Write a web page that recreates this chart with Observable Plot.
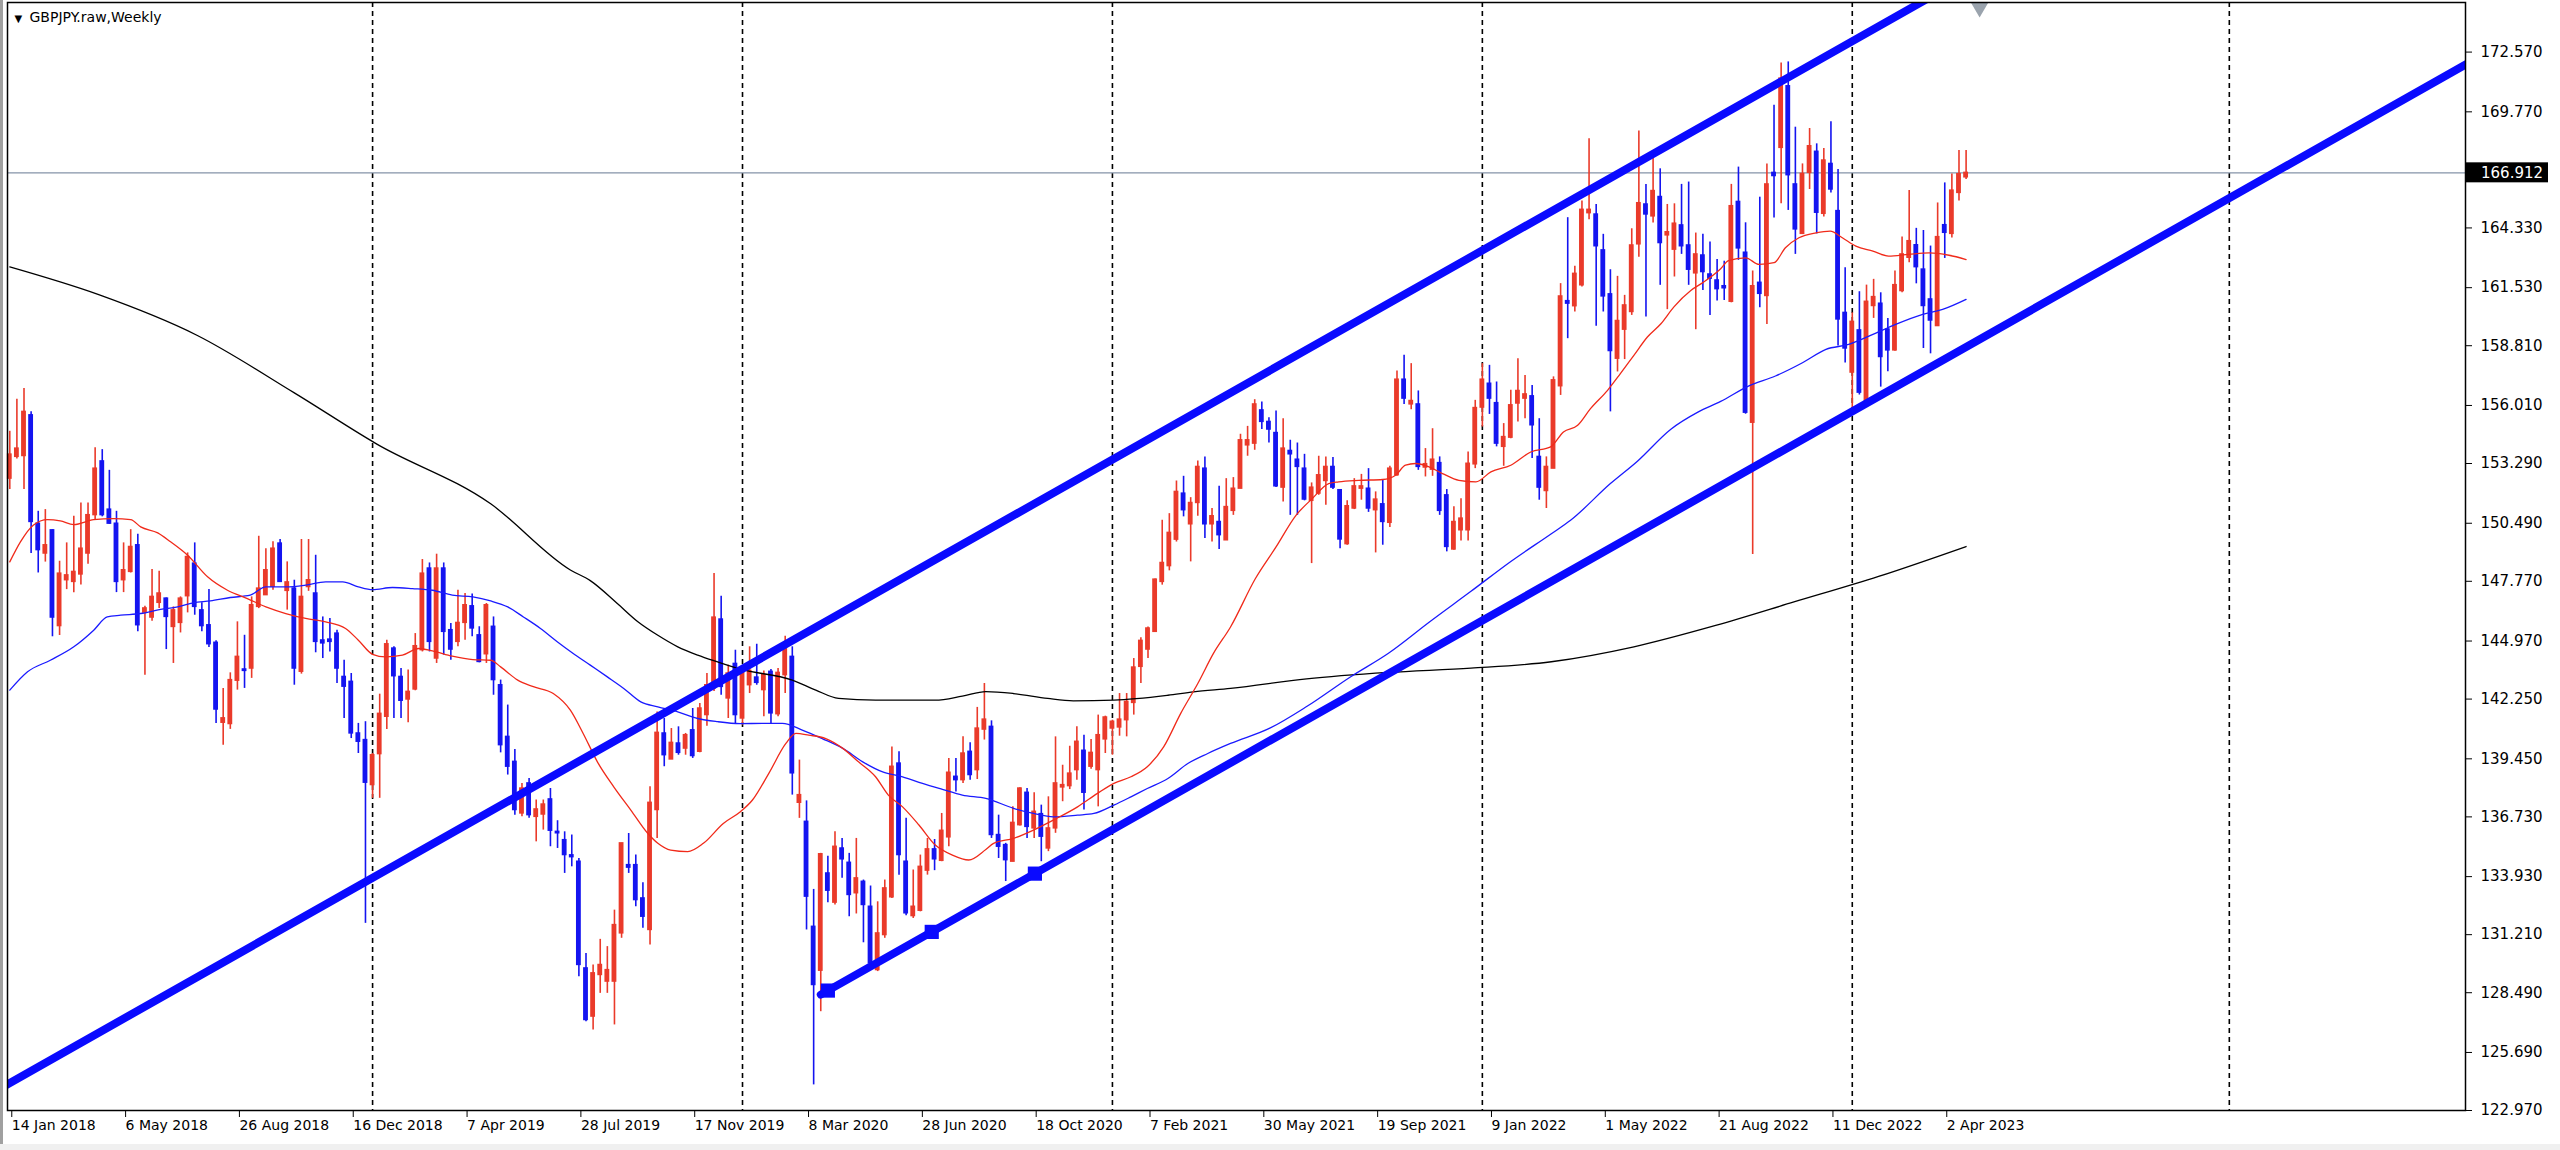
<!DOCTYPE html>
<html>
<head>
<meta charset="utf-8">
<script src="https://cdn.jsdelivr.net/npm/d3@7"></script>
<script src="https://cdn.jsdelivr.net/npm/@observablehq/plot@0.6"></script>
<style>
  html, body { margin: 0; padding: 0; background: #ffffff; overflow: hidden; }
  #wrap { position: relative; width: 2560px; height: 1150px; }
  #edgeL { position: absolute; left: 0; top: 0; width: 3px; height: 1150px; background: #a0a0a0; }
  #edgeB { position: absolute; left: 0; top: 1144px; width: 2560px; height: 6px; background: #f0f0f0; }
</style>
</head>
<body>
<div id="wrap"><div id="edgeL"></div><div id="edgeB"></div></div>
<script>
// ---------- DATA (weekly GBPJPY candles, week index 0 = 14 Jan 2018) ----------
const opens = [
152.58,153.60,153.64,155.55,150.47,149.07,150.16,145.67,147.82,147.74,
148.09,149.07,150.87,153.39,151.13,150.47,147.82,148.21,149.46,146.30,
146.07,146.76,146.96,145.63,145.82,147.07,148.60,146.41,145.71,144.89,
141.14,141.08,143.11,143.64,143.68,146.57,147.12,147.51,149.54,147.32,
147.43,143.53,147.50,147.20,145.00,145.04,145.32,143.29,143.06,140.64,
140.33,138.22,139.67,141.42,144.62,143.29,142.23,142.70,144.54,148.37,
144.15,148.37,145.48,144.93,145.82,146.60,145.24,144.35,145.64,142.90,
140.48,139.31,136.89,138.30,136.73,136.84,137.55,136.03,135.64,134.93,
134.63,129.63,127.37,129.32,129.01,129.01,131.27,134.47,134.47,132.91,
131.43,137.05,140.64,139.42,140.17,139.93,140.79,139.78,141.50,142.75,
145.98,142.28,143.90,141.34,142.90,143.26,142.67,143.53,141.54,143.37,
144.23,137.39,136.50,131.58,129.52,134.08,132.71,135.25,134.58,133.15,
133.69,132.52,129.55,131.19,132.96,139.23,134.63,132.08,132.33,134.21,
135.21,134.67,135.77,138.61,138.45,139.78,138.92,140.82,140.95,135.88,
135.41,134.63,136.34,137.86,136.19,136.86,135.25,136.19,138.11,138.17,
138.92,139.83,139.08,138.92,140.36,140.87,140.92,141.26,142.07,143.76,
144.57,145.40,147.74,148.48,149.72,151.88,150.44,151.44,153.05,150.44,
150.55,149.69,151.07,152.11,154.14,154.22,155.78,155.24,154.72,152.16,
153.88,153.47,153.05,151.54,151.88,152.47,153.13,152.04,149.51,151.18,
152.11,152.11,151.10,151.38,150.51,152.74,157.22,156.06,156.06,153.10,
153.00,153.31,151.80,149.26,150.16,150.16,153.25,155.91,157.03,156.12,
154.07,154.50,156.10,156.33,156.44,153.60,152.00,153.05,156.91,160.90,
160.66,161.64,165.02,164.96,163.28,161.22,158.20,159.56,160.39,163.56,
165.43,164.87,165.78,163.98,163.31,164.45,163.51,162.20,163.04,162.15,
161.87,161.60,160.87,165.55,163.17,155.20,161.76,161.14,166.91,168.08,
170.97,166.37,164.05,166.91,167.90,164.99,167.33,165.12,160.35,157.55,
159.53,156.22,160.67,160.78,159.57,158.59,161.37,162.93,163.52,162.38,
160.98,159.73,164.46,164.05,165.97,166.70];
const highs = [
154.80,156.30,156.80,155.71,151.05,151.13,150.19,148.71,149.57,150.82,
151.44,151.44,154.03,153.94,152.97,151.05,149.57,150.19,149.97,146.60,
148.32,148.24,146.99,146.57,147.04,149.10,149.57,146.76,147.38,144.98,
142.75,143.48,145.87,145.24,147.04,149.88,149.30,149.62,149.73,148.68,
147.82,149.73,149.73,148.99,146.10,146.03,145.48,144.07,143.45,141.11,
141.19,139.70,142.48,145.01,144.70,143.68,143.61,145.32,148.79,148.63,
149.04,148.63,145.79,147.35,147.20,147.17,145.64,146.73,146.10,143.14,
141.97,139.89,138.30,138.53,137.52,137.52,138.06,136.55,136.03,135.88,
134.78,130.33,129.79,130.99,130.65,132.36,135.49,135.95,134.94,133.64,
138.14,141.65,141.34,140.87,140.95,140.64,141.81,142.04,143.45,148.13,
147.07,143.84,144.54,143.76,144.70,144.82,143.57,143.64,143.68,145.20,
144.70,139.39,137.48,133.33,135.02,134.89,136.03,135.72,135.02,135.72,
133.77,133.49,132.75,133.77,140.01,139.78,136.66,134.24,134.94,135.72,
135.67,136.89,139.47,139.47,140.48,140.20,141.86,142.98,141.23,136.81,
135.49,137.20,138.10,138.06,137.86,137.28,137.67,140.48,139.15,140.04,
140.95,140.56,140.36,141.50,141.45,141.26,142.51,142.51,144.15,145.13,
145.63,147.88,150.63,150.94,152.47,152.69,151.69,153.41,153.60,151.18,
152.22,152.58,152.63,154.66,155.03,156.28,156.17,155.44,155.75,155.39,
154.38,154.25,153.72,152.38,153.63,153.60,153.57,152.04,151.54,152.58,
152.78,153.05,151.96,152.50,153.16,157.63,158.36,157.97,156.69,153.99,
154.92,153.60,152.07,151.26,151.64,153.83,156.25,157.97,157.89,157.11,
155.16,156.72,158.20,157.42,156.95,155.39,153.60,157.35,161.72,164.81,
162.53,165.59,168.51,165.43,164.03,162.37,162.06,161.17,164.29,168.87,
166.37,167.96,167.10,165.43,165.46,166.37,166.48,164.09,164.03,163.67,
162.85,162.77,166.37,167.18,164.57,162.31,165.77,167.33,170.08,172.06,
172.11,169.05,167.33,168.99,168.27,168.05,169.30,167.07,162.46,160.35,
161.34,161.65,161.92,161.29,160.09,162.31,163.90,166.08,164.31,164.21,
163.48,165.50,166.44,166.86,167.96,167.96];
const lows = [
152.07,153.50,152.07,149.07,148.16,148.67,145.17,145.23,147.38,147.23,
147.60,148.57,150.66,150.79,150.44,147.24,147.24,148.16,145.40,143.37,
145.90,146.49,144.57,143.92,145.35,146.29,146.18,145.40,144.67,141.11,
140.09,140.83,142.67,142.75,143.22,146.49,147.12,147.35,147.74,146.42,
142.90,143.42,147.30,144.42,144.15,144.46,142.98,141.34,140.40,139.70,
131.74,137.60,137.60,140.83,141.34,141.34,141.14,142.64,144.46,144.46,
143.92,144.31,144.07,144.70,145.01,145.17,143.95,143.92,142.43,139.73,
138.69,136.81,136.74,136.66,135.56,136.11,135.33,135.25,134.08,134.39,
129.24,127.13,126.74,128.46,128.46,126.98,131.04,134.08,132.52,131.51,
130.72,135.72,139.08,139.42,139.62,139.62,139.47,139.73,140.98,142.60,
142.43,141.34,141.10,141.03,142.51,142.90,141.42,141.10,141.42,142.51,
137.75,136.66,131.43,124.17,127.60,132.71,132.60,133.85,132.05,132.18,
130.83,129.79,129.48,131.04,132.91,134.00,132.10,131.97,132.28,134.00,
134.21,134.63,135.33,137.90,138.30,138.45,138.48,140.33,135.72,134.78,
133.70,134.63,136.30,135.72,135.72,134.63,135.10,135.96,137.44,138.01,
138.45,137.05,138.96,137.20,139.70,139.62,140.51,140.48,141.50,142.98,
144.15,145.40,147.59,148.26,149.61,150.79,148.68,150.82,149.77,149.61,
149.26,149.69,150.86,152.11,153.63,153.91,154.88,154.25,152.16,151.49,
150.86,150.86,151.54,148.60,151.80,151.33,152.07,149.30,149.46,151.13,
151.57,151.00,149.10,149.46,150.29,152.69,156.06,155.81,152.97,152.66,
152.69,150.86,149.15,149.23,149.66,149.66,153.05,155.00,155.59,154.07,
153.16,154.45,155.24,155.39,153.52,151.57,151.18,153.05,156.48,159.14,
160.39,161.56,164.71,159.72,160.39,155.71,157.58,158.16,160.23,162.96,
160.15,164.56,161.64,160.50,162.03,163.09,161.64,159.56,161.40,160.23,
160.90,160.93,160.82,162.81,155.60,149.03,160.59,159.81,164.80,165.46,
165.15,163.09,164.02,166.13,164.05,164.84,165.97,158.80,158.00,155.59,
156.50,156.10,160.09,156.87,157.59,158.55,161.29,162.70,161.71,158.68,
158.43,159.73,162.90,163.86,165.59,166.60];
const closes = [
153.71,153.99,155.71,150.55,149.23,149.46,146.07,148.13,148.05,148.21,
149.30,150.87,153.05,150.87,150.47,147.74,148.29,149.38,145.71,146.50,
147.04,147.20,146.10,146.41,146.96,148.91,146.57,145.67,144.82,141.76,
141.35,143.14,144.23,143.57,146.65,147.43,148.29,149.30,147.74,147.72,
143.68,147.04,147.82,144.93,144.86,144.93,143.68,142.83,140.64,140.25,
138.33,139.62,141.56,144.82,143.32,142.17,142.59,144.73,148.13,144.93,
148.37,145.40,144.57,145.82,146.65,145.56,143.99,146.65,143.14,140.09,
139.08,137.05,138.06,136.81,137.08,137.31,136.08,135.96,134.94,134.84,
129.79,127.21,129.40,129.79,129.55,131.66,135.49,134.35,132.83,132.05,
137.39,140.67,139.62,140.20,139.73,140.56,139.58,141.81,142.90,146.07,
142.82,143.45,141.50,143.61,143.57,143.01,143.37,141.58,143.48,144.82,
138.77,137.75,132.99,128.85,134.98,133.27,135.33,134.74,133.07,133.85,
132.60,129.87,131.27,133.38,139.08,134.94,132.21,132.52,134.39,135.21,
134.74,136.08,138.80,138.45,139.70,138.69,140.87,141.29,135.88,135.33,
134.70,136.45,138.06,136.26,136.97,135.80,136.19,138.30,138.22,138.76,
140.25,137.86,139.73,140.56,141.39,141.19,141.29,142.12,143.73,144.98,
145.56,147.85,148.63,150.04,151.96,151.10,151.44,153.13,150.44,150.82,
149.93,151.25,152.11,154.38,154.38,156.06,155.24,154.88,152.22,153.99,
153.72,153.13,151.60,152.16,152.74,153.13,152.16,149.73,151.29,152.22,
152.22,151.18,151.60,150.55,153.05,157.22,156.33,156.22,153.13,153.26,
153.47,151.07,149.38,150.55,150.71,153.28,155.89,157.22,156.33,154.22,
154.53,156.02,156.69,156.53,155.08,152.16,153.13,157.19,161.12,160.78,
162.18,165.18,165.18,163.47,161.12,158.56,159.97,160.70,163.51,165.49,
164.96,166.06,163.62,164.13,164.53,163.47,162.37,163.09,162.26,161.95,
161.46,161.50,165.35,163.37,155.67,161.60,161.24,166.37,166.76,171.33,
166.80,164.26,166.86,168.16,165.04,167.49,166.13,160.04,158.68,159.93,
156.61,160.87,161.09,158.28,158.59,161.65,163.09,163.71,162.49,160.67,
159.99,163.90,164.10,166.08,166.85,166.912];

// moving averages: [week index, price]
const maFast = [[0,148.68],[1.5,149.62],[3.3,150.40],[5.3,150.66],[7.1,150.60],[9,150.43],[11.8,150.66],[14.6,150.71],[17,150.66],[18.4,150.32],[20.8,150.04],[22.6,149.62],[25,148.99],[27.8,147.98],[30.6,147.35],[33.4,146.96],[36,146.57],[38.8,146.26],[41.6,146.03],[44.4,145.87],[47.2,145.56],[49,145.01],[51,144.35],[52.8,144.23],[55.2,144.31],[57.5,144.62],[59.4,144.51],[62.2,144.26],[65.1,144.10],[67.6,144.07],[69,143.76],[71.4,143.14],[73.6,142.83],[76.4,142.51],[78.8,141.73],[80.6,140.64],[82.6,139.31],[84.9,138.14],[87.3,137.05],[89.7,135.95],[91.1,135.49],[92.9,135.17],[95.3,135.10],[97.5,135.49],[100.3,136.42],[102.7,136.97],[104.4,137.52],[106.7,138.77],[109.1,140.17],[110.5,140.64],[112.3,140.56],[114.7,140.40],[117.1,139.94],[119.3,139.31],[121.7,138.61],[123.5,137.75],[125.5,137.20],[127.8,136.35],[130.1,135.41],[132.5,134.94],[134.8,134.71],[137.2,135.2],[138.3,135.49],[141.1,135.72],[143.9,136.11],[146.7,136.58],[150.1,137.20],[152.9,137.83],[155.2,138.30],[157.6,138.61],[159.9,139.08],[162.2,140.01],[164.6,141.58],[167,142.98],[169.2,144.39],[171.6,145.63],[175.1,147.90],[178,149.38],[180.8,150.86],[183.1,151.65],[185.4,152.35],[186.8,152.43],[189.6,152.50],[193,152.54],[194.8,152.74],[196.2,153.21],[197.6,153.29],[199.5,153.13],[201.4,152.82],[203.7,152.50],[206.1,152.43],[208.2,152.90],[211,153.21],[213.8,153.83],[216.6,154.07],[218.4,154.77],[220.4,155.08],[222.2,155.86],[224.6,156.72],[226.4,157.50],[228.3,158.36],[230.2,159.22],[232.1,159.84],[233.9,160.62],[236.3,161.40],[238.1,161.79],[240.5,162.42],[241.6,162.8],[244,162.93],[245.9,162.62],[248,162.70],[249.6,163.40],[251.5,163.87],[253.9,164.10],[255.9,164.18],[257.6,163.87],[259.5,163.48],[261.9,163.24],[264.1,163.01],[266.9,163.09],[269.8,163.16],[272.6,163.05],[275,162.85]];
const maMid = [[0,142.67],[2.5,143.53],[5.7,144.07],[9,144.70],[11.8,145.48],[13.7,146.10],[15.6,146.18],[18.4,146.26],[21.2,146.45],[23.6,146.57],[25.8,146.76],[28.2,146.85],[31,147.01],[33.8,147.12],[36,147.51],[38.8,147.51],[41.6,147.59],[44.4,147.74],[46.8,147.74],[49,147.51],[51,147.38],[53.8,147.48],[56.6,147.43],[59.4,147.35],[62.2,147.12],[65.1,147.04],[67.6,146.85],[70,146.57],[72.2,146.10],[74.6,145.56],[77,144.93],[79.2,144.39],[81.6,143.84],[84,143.29],[86.3,142.75],[88.7,142.12],[91.1,141.89],[93.9,141.65],[96.7,141.34],[99.5,141.19],[102.7,141.10],[105.8,141.11],[108.6,141.11],[111.4,140.80],[114.2,140.40],[117.1,139.94],[119.9,139.31],[122.7,138.84],[125.5,138.61],[128.3,138.30],[131.1,138.02],[133.9,137.75],[137.2,137.60],[141.1,137.13],[143.9,136.89],[146.7,136.73],[150.1,136.81],[152.4,136.89],[155.2,137.28],[157.6,137.67],[159.9,138.06],[162.8,138.53],[165.6,139.23],[168.4,139.70],[171.6,140.17],[177.2,140.9],[182.3,141.9],[188.5,143.3],[193.8,144.4],[199.7,145.9],[205.4,147.3],[211,148.7],[216.7,150.0],[219.4,150.63],[225,152.35],[228.8,153.4],[233.5,154.9],[237.3,155.7],[240.5,156.2],[244.4,156.92],[248.2,157.39],[252,158.01],[255.3,158.64],[258.5,158.87],[261.9,159.34],[265.1,159.81],[268.9,160.28],[271.7,160.51],[275,160.98]];
const maSlow = [[0,162.5],[12.5,161.2],[26.3,159.3],[40,156.6],[51.6,154.2],[67.6,151.4],[78.8,148.3],[81.6,147.8],[85.4,146.73],[88.2,145.9],[91.1,145.24],[93.9,144.7],[96.7,144.31],[99.5,143.99],[102.7,143.65],[110,143.14],[113.3,142.67],[116.5,142.28],[121.7,142.2],[130.1,142.2],[133.9,142.39],[137.2,142.6],[141.1,142.51],[145.9,142.28],[149.5,142.17],[155.2,142.2],[162.8,142.43],[166.4,142.59],[171.6,142.75],[182.3,143.2],[193.8,143.5],[205.4,143.7],[216.7,144.0],[228.3,144.7],[239.8,145.7],[250.8,146.8],[262.7,148.0],[275,149.4]];

// channel trend lines (anchor points: week index, price)
const channelUpperWeeks = [-2, 285];
const channelUpperPrices = [123.88, 177.98];
const channelLowerWeeks = [114, 350];
const channelLowerPrices = [128.40, 172.89];
const handleWeeks = [115, 129.6, 144.1];
const handlePrices = [128.59, 131.34, 134.07];

const currentPrice = 166.912;
const yTicks = [172.570,169.770,164.330,161.530,158.810,156.010,153.290,150.490,147.770,144.970,142.250,139.450,136.730,133.930,131.210,128.490,125.690,122.970];
const labelWeeks = [0,16,32,48,64,80,96,112,128,144,160,176,192,208,224,240,256,272];
const dateLabels = ["14 Jan 2018","6 May 2018","26 Aug 2018","16 Dec 2018","7 Apr 2019","28 Jul 2019","17 Nov 2019","8 Mar 2020","28 Jun 2020","18 Oct 2020","7 Feb 2021","30 May 2021","19 Sep 2021","9 Jan 2022","1 May 2022","21 Aug 2022","11 Dec 2022","2 Apr 2023"];
const yearSeparatorWeeks = [51, 103, 155, 207, 259, 312];
const shiftMarkerWeek = 276.9;
const chartTitle = "GBPJPY.raw,Weekly";

// ---------- BUILD ----------
const RED = "#ea3a2a", BLUE = "#1414f0";
const candles = opens.map((o, i) => ({i, o, h: highs[i], l: lows[i], c: closes[i]}));
const upC = candles.filter(d => d.c >= d.o);
const dnC = candles.filter(d => d.c < d.o);
const toPts = arr => arr.map(([w, v]) => ({w, v}));
const upperLine = channelUpperWeeks.map((w, k) => ({w, v: channelUpperPrices[k]}));
const lowerLine = channelLowerWeeks.map((w, k) => ({w, v: channelLowerPrices[k]}));
const handles = handleWeeks.map((w, k) => ({w, v: handlePrices[k]}));
const BW = 0.34;

const chart = Plot.plot({
  width: 2560,
  height: 1150,
  marginLeft: 7,
  marginRight: 95,
  marginTop: 2,
  marginBottom: 40,
  style: {background: "transparent", fontFamily: "DejaVu Sans, sans-serif", color: "#000"},
  x: {domain: [-0.32, 345.2], axis: null},
  y: {domain: [122.97, 174.894], axis: null},
  marks: [
    Plot.ruleX(yearSeparatorWeeks, {stroke: "#000", strokeWidth: 1.6, strokeDasharray: "5,4"}),
    Plot.ruleY([currentPrice], {stroke: "#8593a8", strokeWidth: 1.3}),
    Plot.ruleX(upC, {x: "i", y1: "l", y2: "h", stroke: RED, strokeWidth: 1.6}),
    Plot.ruleX(dnC, {x: "i", y1: "l", y2: "h", stroke: BLUE, strokeWidth: 1.6}),
    Plot.rect(upC, {x1: d => d.i - BW, x2: d => d.i + BW, y1: "o", y2: "c", fill: RED, insetTop: -0.7, insetBottom: -0.7}),
    Plot.rect(dnC, {x1: d => d.i - BW, x2: d => d.i + BW, y1: "o", y2: "c", fill: BLUE, insetTop: -0.7, insetBottom: -0.7}),
    Plot.line(toPts(maSlow), {x: "w", y: "v", stroke: "#000", strokeWidth: 1.3, curve: "monotone-x"}),
    Plot.line(toPts(maMid), {x: "w", y: "v", stroke: "#1a1aff", strokeWidth: 1.3, curve: "monotone-x"}),
    Plot.line(toPts(maFast), {x: "w", y: "v", stroke: "#f02a1a", strokeWidth: 1.3, curve: "monotone-x"}),
    Plot.line(upperLine, {x: "w", y: "v", stroke: "#0a0aff", strokeWidth: 8, clip: true}),
    Plot.line(lowerLine, {x: "w", y: "v", stroke: "#0a0aff", strokeWidth: 8, clip: true}),
    Plot.dot(handles, {x: "w", y: "v", symbol: "square", r: 8, fill: "#0a0aff", stroke: "none"}),
    Plot.dot([shiftMarkerWeek], {x: d => d, frameAnchor: "top", dy: 5, symbol: "triangle", rotate: 180, r: 6.5, fill: "#9aa3ad", stroke: "none"}),
    Plot.frame({stroke: "#000", strokeWidth: 1.5}),
    Plot.axisY({anchor: "right", ticks: yTicks, tickFormat: d => d.toFixed(3), tickSize: 6, tickPadding: 9, fontSize: 15, label: null}),
    Plot.axisX({anchor: "bottom", ticks: labelWeeks, tickFormat: d => dateLabels[labelWeeks.indexOf(d)], tickSize: 7, tickPadding: 3, textAnchor: "start", dx: 2, fontSize: 14, label: null}),
    Plot.text([chartTitle], {frameAnchor: "top-left", text: d => d, dx: 22, dy: 10, fontSize: 14, textAnchor: "start", lineAnchor: "top", fill: "#000"}),
    Plot.text(["\u25BC"], {frameAnchor: "top-left", text: d => d, dx: 7, dy: 12, fontSize: 10, textAnchor: "start", lineAnchor: "top", fill: "#000"})
  ]
});
document.getElementById("wrap").appendChild(chart);

// current price label box on the right axis
const svg = d3.select(chart);
const yS = chart.scale("y");
const yPix = yS.apply(currentPrice);
const g = svg.append("g").attr("text-anchor", "start");
g.append("rect").attr("x", 2466).attr("y", yPix - 10).attr("width", 82).attr("height", 20).attr("fill", "#000");
g.append("text").attr("x", 2481).attr("y", yPix).attr("dy", "0.36em").attr("fill", "#fff")
  .attr("text-anchor", "start").attr("font-size", 15).attr("font-family", "DejaVu Sans, sans-serif").text(currentPrice.toFixed(3));
</script>
</body>
</html>
